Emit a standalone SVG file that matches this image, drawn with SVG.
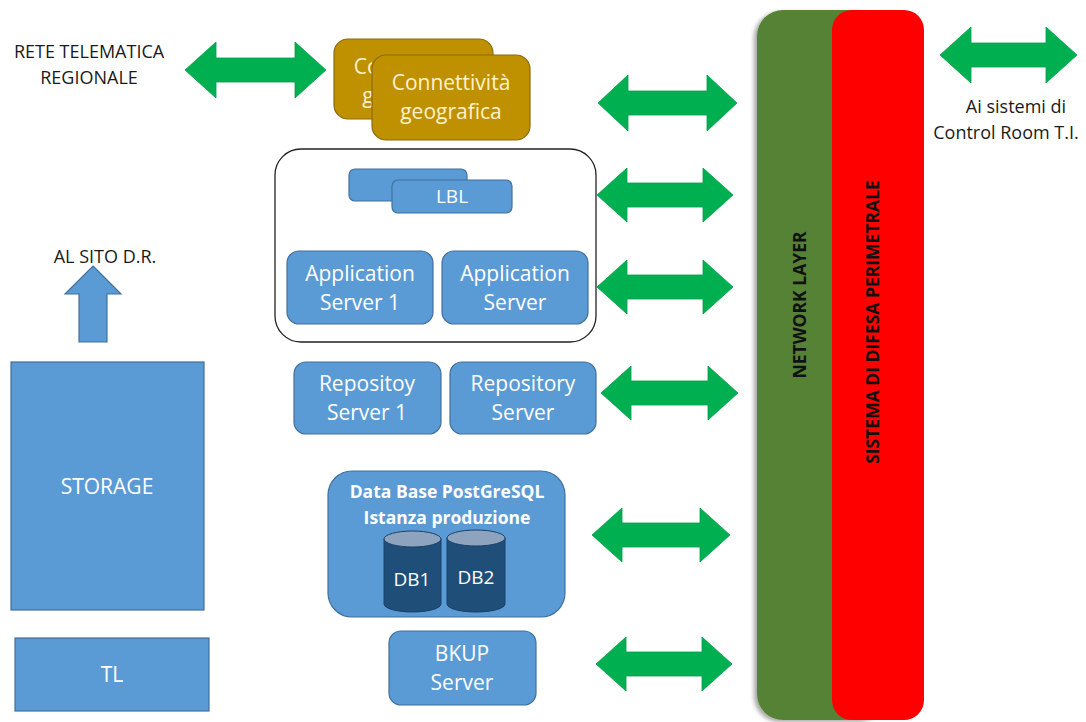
<svg xmlns="http://www.w3.org/2000/svg" width="1086" height="722" viewBox="0 0 1086 722">
  <defs>
    <style>
      .box { fill: #5b9bd5; stroke: #41719c; stroke-width: 1.2; }
      .geo { fill: #bf9000; stroke: #8c6a0c; stroke-width: 1.2; }
      .lbl { fill: #ffffff; font-family: "Open Sans", "Liberation Sans", sans-serif; font-size: 21px; text-anchor: middle; }
      .geotxt { fill: #fff2cc; font-family: "Open Sans", "Liberation Sans", sans-serif; font-size: 21px; text-anchor: middle; }
      .dark { fill: #1a1a1a; font-family: "Open Sans", "Liberation Sans", sans-serif; font-size: 18px; text-anchor: middle; }
      .vert { fill: #111111; font-family: "Open Sans", "Liberation Sans", sans-serif; font-size: 17.5px; font-weight: bold; text-anchor: middle; }
      .link { fill: #00b050; stroke: #00a04a; stroke-width: 0.8; }
      .cyl { fill: #1f4e79; stroke: #18406a; stroke-width: 1; }
      .cyltop { fill: #8ea3bd; stroke: #18406a; stroke-width: 1; }
    </style>
    <filter id="soft" x="-10%" y="-5%" width="130%" height="110%">
      <feDropShadow dx="-3" dy="2" stdDeviation="2" flood-color="#000" flood-opacity="0.35"/>
    </filter>
    <!-- visible part of the rear connectivity card -->
    <clipPath id="geoBack">
      <path d="M334,39 H493 V55 H372 V119 H334 Z"/>
    </clipPath>
  </defs>

  <rect width="1086" height="722" fill="#ffffff"/>

  <!-- plain labels -->
  <g id="rete-label">
    <text class="dark" x="89" y="58">RETE TELEMATICA</text>
    <text class="dark" x="89" y="84">REGIONALE</text>
  </g>
  <g id="control-room-label">
    <text class="dark" x="1016" y="113">Ai sistemi di</text>
    <text class="dark" x="1006" y="139">Control Room T.I.</text>
  </g>
  <g id="dr-label">
    <text class="dark" x="105" y="263">AL SITO D.R.</text>
  </g>

  <!-- perimeter layers -->
  <g id="network-layer">
    <rect x="757" y="10" width="130" height="710" rx="26" fill="#548235" filter="url(#soft)"/>
    <text class="vert" transform="translate(806,305) rotate(-90)">NETWORK LAYER</text>
  </g>
  <g id="difesa-perimetrale">
    <rect x="832" y="10" width="92" height="710" rx="20" fill="#ff0000"/>
    <text class="vert" transform="translate(879,322) rotate(-90)">SISTEMA DI DIFESA PERIMETRALE</text>
  </g>

  <!-- geographic connectivity -->
  <g id="geo">
    <rect class="geo" x="334" y="39" width="159" height="80" rx="14"/>
    <g clip-path="url(#geoBack)">
      <text class="geotxt" x="413" y="74">Connettività</text>
      <text class="geotxt" x="413" y="103">geografica</text>
    </g>
    <rect class="geo" x="372" y="55" width="158" height="85" rx="14"/>
    <text class="geotxt" x="451" y="90">Connettività</text>
    <text class="geotxt" x="451" y="119">geografica</text>
  </g>

  <!-- application cluster -->
  <g id="app-cluster">
    <rect x="275" y="149" width="321" height="193" rx="26" fill="#ffffff" stroke="#222222" stroke-width="1.3"/>
  </g>
  <g id="lbl">
    <rect class="box" x="349" y="169" width="118" height="32" rx="6"/>
    <rect class="box" x="392" y="180" width="120" height="33" rx="6"/>
    <text class="lbl" x="452" y="203" style="font-size:19px">LBL</text>
  </g>
  <g id="app1">
    <rect class="box" x="287" y="251" width="146" height="73" rx="12"/>
    <text class="lbl" x="360" y="281">Application</text>
    <text class="lbl" x="360" y="310">Server 1</text>
  </g>
  <g id="app2">
    <rect class="box" x="442" y="251" width="146" height="73" rx="12"/>
    <text class="lbl" x="515" y="281">Application</text>
    <text class="lbl" x="515" y="310">Server</text>
  </g>

  <!-- repository servers -->
  <g id="repo1">
    <rect class="box" x="294" y="362" width="147" height="72" rx="12"/>
    <text class="lbl" x="367" y="391">Repositoy</text>
    <text class="lbl" x="367" y="420">Server 1</text>
  </g>
  <g id="repo2">
    <rect class="box" x="450" y="362" width="146" height="72" rx="12"/>
    <text class="lbl" x="523" y="391">Repository</text>
    <text class="lbl" x="523" y="420">Server</text>
  </g>

  <!-- database -->
  <g id="database">
    <rect class="box" x="328" y="471" width="237" height="146" rx="24"/>
    <text class="lbl" x="447" y="498" style="font-weight:bold;font-size:17.5px">Data Base PostGreSQL</text>
    <text class="lbl" x="447" y="524" style="font-weight:bold;font-size:17.5px">Istanza produzione</text>
  </g>
  <g id="db1">
    <path class="cyl" d="M384,539 V604 A28.5,8 0 0 0 441,604 V539 Z"/>
    <ellipse class="cyltop" cx="412.5" cy="539" rx="28.5" ry="8"/>
    <text class="lbl" x="412" y="586" style="font-size:19px">DB1</text>
  </g>
  <g id="db2">
    <path class="cyl" d="M447,538 V604 A29,8 0 0 0 505,604 V538 Z"/>
    <ellipse class="cyltop" cx="476" cy="538" rx="29" ry="8"/>
    <text class="lbl" x="476" y="584" style="font-size:19px">DB2</text>
  </g>

  <!-- backup -->
  <g id="bkup">
    <rect class="box" x="389" y="631" width="147" height="74" rx="12"/>
    <text class="lbl" x="462" y="661">BKUP</text>
    <text class="lbl" x="462" y="690">Server</text>
  </g>

  <!-- storage and tape library -->
  <g id="storage">
    <rect class="box" x="11" y="362" width="193" height="248"/>
    <text class="lbl" x="107" y="494">STORAGE</text>
  </g>
  <g id="tl">
    <rect class="box" x="15" y="638" width="194" height="73"/>
    <text class="lbl" x="112" y="682">TL</text>
  </g>

  <!-- connectors -->
  <g id="connectors">
    <path class="box" d="M93,266 L121,294 L107,294 L107,342 L79,342 L79,294 L65,294 Z"/>
    <path class="link" d="M185,70 L216,42 L216,58 L295,58 L295,42 L326,70 L295,98 L295,82 L216,82 L216,98 Z"/>
    <path class="link" d="M940,55 L971,27 L971,43 L1046,43 L1046,27 L1077,55 L1046,83 L1046,67 L971,67 L971,83 Z"/>
    <path class="link" d="M598,103 L628,75 L628,91 L707,91 L707,75 L737,103 L707,131 L707,115 L628,115 L628,131 Z"/>
    <path class="link" d="M597,195 L627,168 L627,183 L703,183 L703,168 L733,195 L703,222 L703,207 L627,207 L627,222 Z"/>
    <path class="link" d="M597,287 L627,260 L627,275 L703,275 L703,260 L733,287 L703,314 L703,299 L627,299 L627,314 Z"/>
    <path class="link" d="M601,393 L631,366 L631,381 L708,381 L708,366 L738,393 L708,420 L708,405 L631,405 L631,420 Z"/>
    <path class="link" d="M592,535 L622,508 L622,523 L700,523 L700,508 L730,535 L700,562 L700,547 L622,547 L622,562 Z"/>
    <path class="link" d="M596,664 L626,637 L626,652 L702,652 L702,637 L732,664 L702,691 L702,676 L626,676 L626,691 Z"/>
  </g>
</svg>
